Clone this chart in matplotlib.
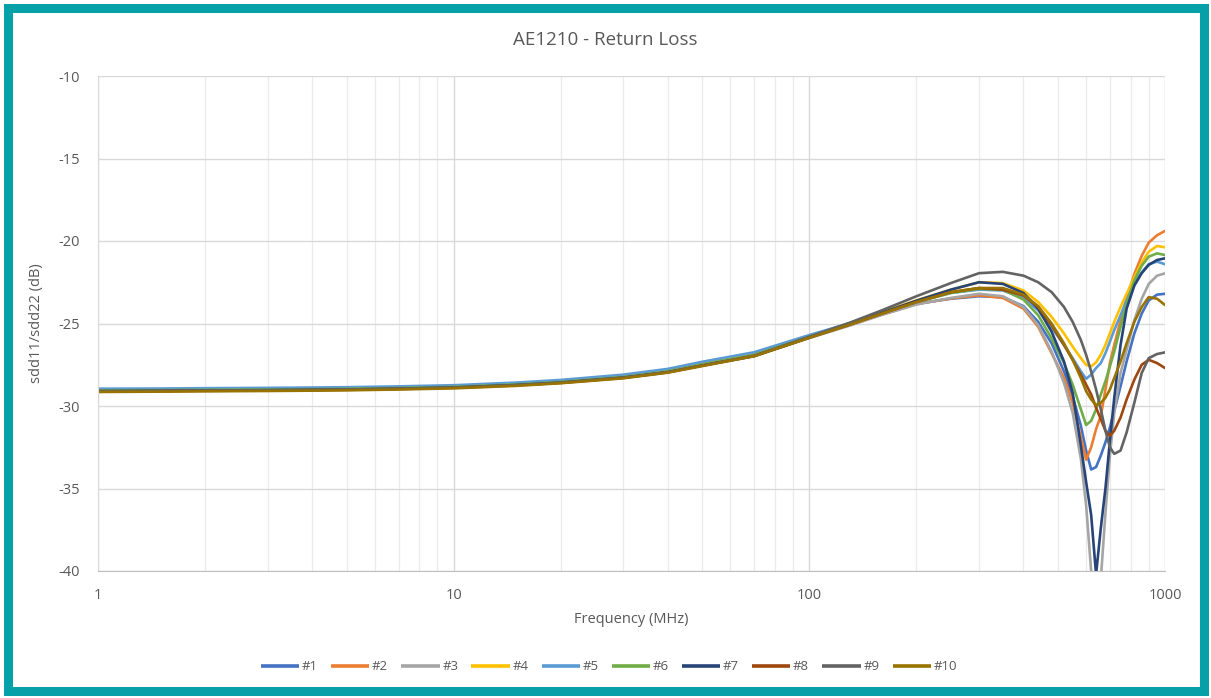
import matplotlib
matplotlib.use("Agg")
import matplotlib.pyplot as plt
from matplotlib.patches import Rectangle
from matplotlib.ticker import LogLocator, FixedLocator, NullFormatter

# Frequency grid (MHz)
freq = [1, 1.5, 2, 3, 4, 5, 7, 10, 15, 20, 30, 40, 50, 70, 100, 130, 160, 200, 250,
        300, 350, 400, 440, 480, 520, 550, 580, 600, 620, 640, 660, 680, 700, 720,
        750, 780, 820, 860, 900, 950, 1000]

labels = ["#1", "#2", "#3", "#4", "#5", "#6", "#7", "#8", "#9", "#10"]
colors = ["#4472C4", "#ED7D31", "#A5A5A5", "#FFC000", "#5B9BD5",
          "#70AD47", "#264478", "#9E480E", "#636363", "#997300"]

# Return loss (dB) per sample
s1 = [-29.00, -29.00, -28.98, -28.97, -28.95, -28.93, -28.88, -28.82, -28.67, -28.52, -28.22, -27.88, -27.45, -26.88,
      -25.80, -25.05, -24.40, -23.80, -23.50,
      -23.35, -23.40, -23.95, -24.90, -26.20, -27.90, -29.40, -31.20, -32.70, -33.85, -33.70, -33.00, -32.20, -31.30,
      -30.30, -28.80, -27.30, -25.60, -24.40, -23.60, -23.25, -23.20]
s2 = [-29.08, -29.07, -29.05, -29.03, -29.01, -28.99, -28.94, -28.87, -28.72, -28.57, -28.27, -27.92, -27.50, -26.93,
      -25.85, -25.10, -24.45, -23.82, -23.48,
      -23.30, -23.45, -24.10, -25.20, -26.80, -28.30, -29.80, -31.90, -33.25, -32.50, -31.40, -30.60, -29.00, -27.40,
      -26.30, -24.80, -23.50, -22.00, -20.90, -20.10, -19.65, -19.39]
s3 = [-29.10, -29.08, -29.06, -29.04, -29.02, -29.00, -28.95, -28.88, -28.73, -28.58, -28.28, -27.93, -27.52, -26.95,
      -25.88, -25.12, -24.48, -23.85, -23.45,
      -23.20, -23.35, -24.00, -25.10, -26.70, -28.60, -30.40, -33.20, -36.00, -40.00, -43.00, -40.50, -36.50, -33.00,
      -30.40, -28.00, -26.60, -24.80, -23.50, -22.60, -22.10, -21.96]
s4 = [-29.05, -29.04, -29.02, -29.00, -28.98, -28.96, -28.91, -28.84, -28.69, -28.54, -28.24, -27.90, -27.48, -26.90,
      -25.78, -24.98, -24.30, -23.60, -22.95,
      -22.50, -22.55, -23.00, -23.70, -24.60, -25.60, -26.40, -27.10, -27.50, -27.60, -27.35, -26.90, -26.30, -25.60,
      -24.90, -24.00, -23.20, -22.20, -21.30, -20.65, -20.30, -20.38]
s5 = [-28.95, -28.94, -28.92, -28.90, -28.88, -28.86, -28.81, -28.74, -28.58, -28.42, -28.10, -27.75, -27.32, -26.74,
      -25.70, -24.98, -24.35, -23.70, -23.15,
      -22.95, -23.00, -23.45, -24.20, -25.25, -26.30, -27.10, -27.90, -28.35, -28.10, -27.70, -27.40, -26.80, -26.10,
      -25.40, -24.50, -23.60, -22.60, -21.90, -21.40, -21.25, -21.41]
s6 = [-29.05, -29.04, -29.02, -29.00, -28.98, -28.96, -28.91, -28.84, -28.69, -28.54, -28.24, -27.90, -27.48, -26.90,
      -25.80, -25.03, -24.38, -23.70, -23.15,
      -22.90, -22.95, -23.55, -24.50, -25.90, -27.40, -28.70, -30.20, -31.15, -30.90, -30.20, -29.30, -28.50, -27.60,
      -26.70, -25.20, -23.80, -22.40, -21.50, -20.95, -20.75, -20.85]
s7 = [-29.10, -29.08, -29.06, -29.04, -29.02, -29.00, -28.95, -28.88, -28.73, -28.58, -28.28, -27.95, -27.55, -26.98,
      -25.85, -25.05, -24.35, -23.62, -22.95,
      -22.50, -22.60, -23.15, -24.10, -25.50, -27.30, -29.20, -32.40, -34.60, -36.60, -40.20, -37.40, -35.00, -32.10,
      -29.50, -26.30, -24.10, -22.70, -21.95, -21.45, -21.15, -21.05]
s8 = [-29.12, -29.10, -29.08, -29.06, -29.04, -29.02, -28.97, -28.90, -28.75, -28.60, -28.30, -27.96, -27.55, -26.97,
      -25.85, -25.06, -24.40, -23.70, -23.10,
      -22.85, -22.95, -23.30, -24.00, -25.10, -26.30, -27.20, -28.10, -28.70, -29.30, -30.10, -30.80, -31.50, -31.80,
      -31.50, -30.70, -29.60, -28.40, -27.50, -27.20, -27.40, -27.70]
s9 = [-29.10, -29.08, -29.06, -29.04, -29.02, -29.00, -28.95, -28.88, -28.73, -28.58, -28.28, -27.95, -27.55, -26.95,
      -25.80, -24.95, -24.20, -23.35, -22.55,
      -21.95, -21.87, -22.10, -22.50, -23.10, -24.00, -24.90, -26.00, -26.90, -27.90, -29.00, -30.20, -31.50, -32.50,
      -32.90, -32.70, -31.60, -29.80, -28.00, -27.10, -26.85, -26.75]
s10 = [-29.15, -29.13, -29.11, -29.09, -29.07, -29.05, -29.00, -28.93, -28.78, -28.62, -28.32, -27.98, -27.58, -26.98,
       -25.87, -25.07, -24.40, -23.70, -23.10,
       -22.85, -22.85, -23.25, -23.95, -25.00, -26.20, -27.20, -28.30, -29.10, -29.60, -29.95, -29.80, -29.50, -29.00,
       -28.30, -27.30, -26.20, -24.90, -24.00, -23.40, -23.50, -23.88]
series = [s1, s2, s3, s4, s5, s6, s7, s8, s9, s10]

x_ticks = [1, 10, 100, 1000]
x_tick_labels = ["1", "10", "100", "1000"]
y_ticks = [-40, -35, -30, -25, -20, -15, -10]

W, H = 1211, 698
plt.rcParams["font.family"] = ["Open Sans", "DejaVu Sans"]
text_color = "#595959"

fig = plt.figure(figsize=(W / 100, H / 100), dpi=100)
fig.patch.set_facecolor("white")

ax = fig.add_axes([98 / W, 1 - 571 / H, (1165 - 98) / W, (571 - 76) / H])
for vals, c, lab in zip(series, colors, labels):
    ax.plot(freq, vals, color=c, lw=1.9, label=lab, solid_joinstyle="round",
            solid_capstyle="round")

ax.set_xscale("log")
ax.set_xlim(1, 1000)
ax.set_ylim(-40, -10)
ax.xaxis.set_major_locator(FixedLocator(x_ticks))
ax.set_xticklabels(x_tick_labels)
ax.xaxis.set_minor_locator(LogLocator(base=10, subs=range(2, 10)))
ax.xaxis.set_minor_formatter(NullFormatter())
ax.set_yticks(y_ticks)
ax.set_yticklabels([str(v) for v in y_ticks])

ax.grid(True, which="major", axis="both", color="#D9D9D9", lw=1.0)
ax.grid(True, which="minor", axis="x", color="#EBEBEB", lw=0.9)
ax.set_axisbelow(True)
for side in ["top", "right"]:
    ax.spines[side].set_visible(False)
ax.spines["left"].set_color("#D9D9D9")
ax.spines["bottom"].set_color("#BFBFBF")
ax.tick_params(which="both", length=0, colors=text_color, labelsize=10.5)
ax.tick_params(axis="x", pad=12)
ax.tick_params(axis="y", pad=13)

fig.text(605 / W, 1 - 40 / H, "AE1210 - Return Loss", color=text_color,
         fontsize=13.5, ha="center", va="center")
ax.set_xlabel("Frequency (MHz)", color=text_color, fontsize=10.5, labelpad=7)
ax.set_ylabel("sdd11/sdd22 (dB)", color=text_color, fontsize=10.5, labelpad=10)

leg = fig.legend(loc="center", bbox_to_anchor=(609 / W, 1 - 667 / H), ncol=10,
                 frameon=False, fontsize=9.5, handlelength=2.9, handletextpad=0.2,
                 columnspacing=1.0, labelcolor=text_color)
for line in leg.get_lines():
    line.set_linewidth(2.6)
    line.set_solid_capstyle("butt")

# teal frame around the chart area
fig.patches.append(Rectangle((7.5 / W, 7.5 / H), 1 - 15 / W, 1 - 15 / H,
                             transform=fig.transFigure, fill=False,
                             edgecolor="#06A0A8", lw=6.5))

fig.savefig("out.png", dpi=100, facecolor="white")
